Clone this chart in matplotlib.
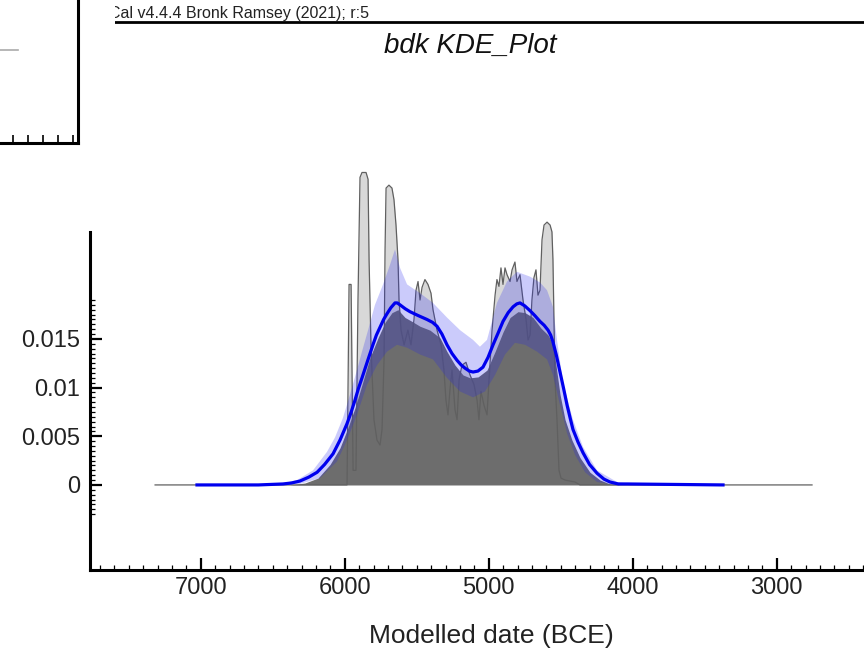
import numpy as np
import matplotlib
matplotlib.use("Agg")
import matplotlib.pyplot as plt
from matplotlib.ticker import FixedLocator, MultipleLocator

plt.rcParams['font.family'] = ['Liberation Sans', 'DejaVu Sans']

# unmodelled summed probability (light grey, spiky outline)
sum_years = [7317, 5984, 5970, 5956, 5942, 5922, 5908, 5894, 5880, 5852, 5838, 5831, 5817, 5797,
             5776, 5755, 5741, 5727, 5720, 5713, 5693, 5672, 5658, 5644, 5630, 5623, 5609, 5588,
             5561, 5540, 5519, 5505, 5491, 5477, 5463, 5443, 5422, 5401, 5387, 5359, 5331, 5311,
             5297, 5283, 5269, 5255, 5234, 5220, 5206, 5186, 5158, 5130, 5102, 5081, 5068, 5054,
             5033, 5012, 4998, 4977, 4956, 4943, 4929, 4915, 4901, 4887, 4873, 4852, 4838, 4818,
             4804, 4783, 4762, 4741, 4727, 4713, 4700, 4686, 4672, 4658, 4644, 4630, 4616, 4595,
             4574, 4561, 4554, 4540, 4526, 4512, 4498, 4470, 4401, 4366, 2755]
sum_dens = [0, 0, 0.0206, 0.0206, 0.0015, 0.0015, 0.0190, 0.0316, 0.0321, 0.0321, 0.0314, 0.0231,
            0.0139, 0.0067, 0.0046, 0.0041, 0.0057, 0.0129, 0.0242, 0.0305, 0.0308, 0.0305, 0.0293,
            0.0267, 0.0231, 0.0190, 0.0159, 0.0144, 0.0159, 0.0144, 0.0170, 0.0200, 0.0209, 0.0190,
            0.0203, 0.0211, 0.0206, 0.0197, 0.0180, 0.0159, 0.0144, 0.0118, 0.0087, 0.0072, 0.0098,
            0.0118, 0.0077, 0.0067, 0.0108, 0.0123, 0.0126, 0.0113, 0.0103, 0.0087, 0.0067, 0.0096,
            0.0082, 0.0072, 0.0108, 0.0159, 0.0195, 0.0211, 0.0204, 0.0223, 0.0206, 0.0223, 0.0216,
            0.0209, 0.0221, 0.0229, 0.0209, 0.0216, 0.0190, 0.0170, 0.0149, 0.0154, 0.0190, 0.0213,
            0.0221, 0.0195, 0.0200, 0.0252, 0.0267, 0.0270, 0.0267, 0.0260, 0.0231, 0.0108, 0.0067,
            0.0015, 0.0007, 0.0005, 0.0003, 0, 0]

# KDE distribution (dark grey)
kde_years = [6380, 6276, 6186, 6102, 6033, 5977, 5929, 5880, 5824, 5769, 5720, 5672, 5630, 5581,
             5533, 5477, 5408, 5338, 5290, 5234, 5179, 5130, 5074, 5012, 4956, 4901, 4852, 4797,
             4748, 4693, 4637, 4588, 4554, 4533, 4505, 4470, 4422, 4366, 4297, 4227, 4158, 4088]
kde_dens = [0, 0.0002, 0.0007, 0.0021, 0.0038, 0.0059, 0.0079, 0.0103, 0.0131, 0.0151, 0.0167,
            0.0177, 0.0180, 0.0172, 0.0168, 0.0163, 0.0159, 0.0151, 0.0137, 0.0123, 0.0113, 0.0110,
            0.0111, 0.0118, 0.0137, 0.0157, 0.0172, 0.0178, 0.0177, 0.0172, 0.0161, 0.0154, 0.0144,
            0.0123, 0.0093, 0.0067, 0.0046, 0.0028, 0.0013, 0.0005, 0.0001, 0]

# KDE mean (blue line)
mean_years = [7026, 6600, 6429, 6370, 6311, 6250, 6192, 6140, 6081, 6033, 5984, 5955, 5929, 5905,
              5880, 5840, 5804, 5780, 5755, 5730, 5706, 5680, 5651, 5635, 5616, 5580, 5547, 5490,
              5429, 5390, 5359, 5325, 5290, 5255, 5220, 5190, 5165, 5135, 5109, 5075, 5040, 5005,
              4970, 4935, 4901, 4865, 4831, 4805, 4783, 4750, 4713, 4680, 4644, 4615, 4588, 4570,
              4554, 4530, 4505, 4480, 4456, 4435, 4415, 4380, 4345, 4300, 4248, 4200, 4158, 4100,
              4040, 3373]
mean_dens = [0, 0, 0.0001, 0.0002, 0.0004, 0.0008, 0.0013, 0.0021, 0.0032, 0.0046, 0.0063, 0.0075,
             0.0087, 0.0099, 0.0110, 0.0128, 0.0144, 0.0154, 0.0162, 0.0170, 0.0176, 0.0182, 0.0187,
             0.0187, 0.0185, 0.0181, 0.0178, 0.0174, 0.0170, 0.0167, 0.0163, 0.0155, 0.0144, 0.0135,
             0.0128, 0.0123, 0.0120, 0.0117, 0.0116, 0.0117, 0.0121, 0.0131, 0.0144, 0.0156, 0.0168,
             0.0177, 0.0183, 0.0186, 0.0187, 0.0184, 0.0179, 0.0174, 0.0168, 0.0164, 0.0159, 0.0154,
             0.0147, 0.0133, 0.0116, 0.0099, 0.0082, 0.0069, 0.0057, 0.0044, 0.0033, 0.0021, 0.0012,
             0.0006, 0.0003, 0.0001, 0.0001, 0]

# +/- 1 sigma band
hi_years = [7074, 6449, 6331, 6220, 6123, 6067, 6012, 5963, 5915, 5880, 5838, 5790, 5734, 5686,
            5651, 5616, 5567, 5477, 5387, 5290, 5199, 5109, 5061, 5012, 4943, 4873, 4804, 4713,
            4644, 4595, 4554, 4526, 4484, 4415, 4345, 4248, 4109, 3950]
hi_dens = [0, 0.0001, 0.0005, 0.0015, 0.0034, 0.0049, 0.0069, 0.0093, 0.0118, 0.0137, 0.0159,
           0.0185, 0.0206, 0.0226, 0.0242, 0.0223, 0.0206, 0.0197, 0.0187, 0.0172, 0.0159, 0.0149,
           0.0142, 0.0149, 0.0187, 0.0209, 0.0219, 0.0214, 0.0208, 0.0200, 0.0183, 0.0149, 0.0105,
           0.0067, 0.0039, 0.0015, 0.0003, 0]
lo_years = [6970, 6311, 6172, 6054, 5984, 5915, 5845, 5776, 5706, 5637, 5567, 5477, 5387, 5290,
            5199, 5109, 5026, 4956, 4887, 4818, 4748, 4665, 4595, 4554, 4505, 4456, 4401, 4331,
            4248, 4123]
lo_dens = [0, 0.0001, 0.0007, 0.0024, 0.0046, 0.0072, 0.0103, 0.0123, 0.0137, 0.0144, 0.0141,
           0.0134, 0.0129, 0.0110, 0.0096, 0.0090, 0.0096, 0.0113, 0.0134, 0.0146, 0.0144, 0.0137,
           0.0129, 0.0113, 0.0082, 0.0053, 0.0031, 0.0013, 0.0003, 0]

x_ticks = [7000, 6000, 5000, 4000, 3000]
y_ticks = [0, 0.005, 0.01, 0.015]
y_tick_labels = ["0", "0.005", "0.01", "0.015"]

W, H = 864, 657
fig = plt.figure(figsize=(W / 100, H / 100), dpi=100)


def px_box(x0, y0, x1, y1):
    # pixel box (top-left origin) -> figure fraction rect
    return [x0 / W, 1 - y1 / H, (x1 - x0) / W, (y1 - y0) / H]


ax = fig.add_axes(px_box(90, 154, 864, 570))

ax.fill_between(sum_years, sum_dens, color='#d8d8d8', lw=0, zorder=1)
ax.fill_between(kde_years, kde_dens, color='#6d6d6d', lw=0, zorder=2)
ax.plot(sum_years, sum_dens, color='#606060', lw=0.9, zorder=3)
band_x = np.r_[hi_years, lo_years[::-1]]
band_y = np.r_[hi_dens, lo_dens[::-1]]
ax.fill(band_x, band_y, color='#2020f0', alpha=0.23, lw=0, zorder=4)
ax.plot(mean_years, mean_dens, color='#0000ee', lw=2.3, zorder=5)

ax.set_xlim(7769, 2394)
ax.set_ylim(-0.00874, 0.034)

for s in ['top', 'right']:
    ax.spines[s].set_visible(False)
for s in ['left', 'bottom']:
    ax.spines[s].set_linewidth(2.2)
ax.spines['left'].set_bounds(-0.00874, 0.026)

ax.set_xticks(x_ticks)
ax.set_xticklabels([str(t) for t in x_ticks])
ax.xaxis.set_minor_locator(MultipleLocator(100))
ax.set_yticks(y_ticks)
ax.set_yticklabels(y_tick_labels)
ax.yaxis.set_minor_locator(FixedLocator(np.arange(-0.003, 0.0191, 0.0005)))

ax.tick_params(which='major', direction='in', length=8.5, width=1.6,
               labelsize=17, labelcolor='#222222')
ax.tick_params(which='minor', direction='in', length=3.8, width=0.9)
ax.tick_params(axis='x', which='major', pad=5)
ax.tick_params(axis='y', which='major', pad=7)

fig.text(491 / W, 1 - 636 / H, "Modelled date (BCE)", ha='center', va='center',
         fontsize=19, color='#222222')
fig.text(470 / W, 1 - 46 / H, "bdk KDE_Plot", ha='center', va='center',
         fontsize=20, style='italic', color='#111111')

# header strip (cut on the left)
ax_head = fig.add_axes(px_box(115, 0, 864, 30))
ax_head.set_xlim(0, 749)
ax_head.set_ylim(30, 0)
ax_head.axis('off')
ax_head.axhline(22, color='black', lw=2)
ax_head.text(-6, 18, "Cal v4.4.4 Bronk Ramsey (2021); r:5", fontsize=11.5,
             color='#222222', va='baseline', ha='left', clip_on=True)

# remnant of the neighbouring panel at top left
ax_prev = fig.add_axes(px_box(-20, -5, 78, 143))
ax_prev.set_xlim(-33.3, 64.7)
ax_prev.set_ylim(0, 1)
ax_prev.patch.set_visible(False)
for s in ['top', 'left']:
    ax_prev.spines[s].set_visible(False)
for s in ['right', 'bottom']:
    ax_prev.spines[s].set_linewidth(2.2)
ax_prev.set_xticks(np.arange(0, 64, 15))
ax_prev.set_xticklabels([])
ax_prev.set_yticks([])
ax_prev.tick_params(axis='x', direction='in', length=5.5, width=1.2)
ax_prev.plot([-13.3, 4.7], [0.63, 0.63], color='#aaaaaa', lw=1.2)

fig.savefig('out.png', dpi=100)
